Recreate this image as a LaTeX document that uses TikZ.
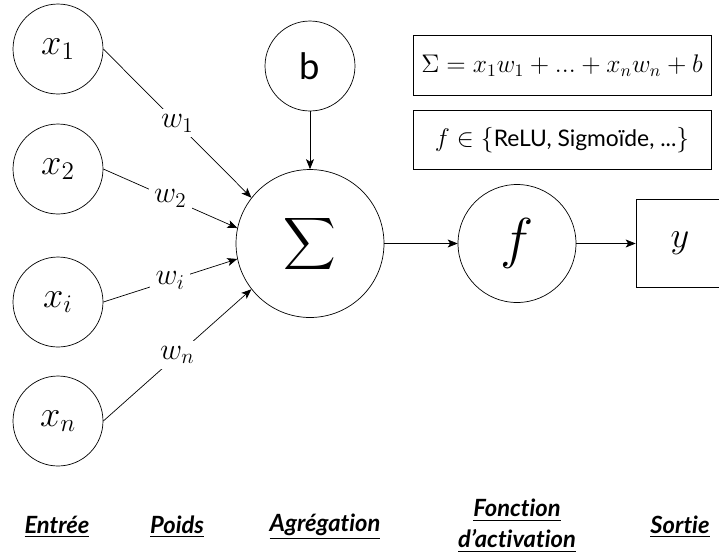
\RequirePackage{fix-cm}
\documentclass[tikz,border=0pt]{standalone}
\usepackage{amsmath}
\usepackage{fontspec}
\setmainfont{Lato}[Ligatures={TeX,NoCommon}]
\DeclareMathSizes{13}{14.5}{10}{7.5}
\usetikzlibrary{arrows.meta, positioning}

\begin{document}
\begin{tikzpicture}[x=0.02cm, y=-0.02cm,
    neur/.style={draw, circle, minimum size=1.8cm, inner sep=0pt, font=\huge},
    somme/.style={draw, circle, minimum size=2.96cm, inner sep=0pt, font=\huge},
    activ/.style={draw, circle, minimum size=2.36cm, inner sep=0pt, font=\fontsize{32}{38}\selectfont},
    sortie/.style={draw, minimum size=1.76cm, inner sep=0pt, font=\huge},
    formule/.style={draw, minimum width=5.96cm, minimum height=1.19cm, font=\fontsize{13}{16}\selectfont},
    poids/.style={fill=white, inner sep=3pt, font=\LARGE},
    arr/.style={-{Stealth[length=2mm, width=1.6mm, inset=0.5mm]}},
    etape/.style={font=\fontsize{13.5}{17}\selectfont\bfseries\itshape, align=center}
  ]
  \useasboundingbox (0,0) rectangle (719,552);

  % entrees
  \node[neur] (x1) at (58,49) {$x_1$};
  \node[neur] (x2) at (58,169) {$x_2$};
  \node[neur] (xi) at (58,302) {$x_i$};
  \node[neur] (xn) at (58,421) {$x_n$};

  % somme, biais, activation, sortie
  \node[somme] (sig) at (310,243.5) {$\displaystyle\sum$};
  \node[neur] (b) at (310,66) {b};
  \node[activ] (f) at (517,243.5) {$f$};
  \node[sortie] (y) at (680,243.5) {$y$};

  \draw[arr] (x1.east) -- node[poids] {$w_1$} (sig.142);
  \draw[arr] (x2.east) -- node[poids] {$w_2$} (sig.168);
  \draw[arr] (xi.east) -- node[poids] {$w_i$} (sig.192);
  \draw[arr] (xn.east) -- node[poids] {$w_n$} (sig.218);
  \draw[arr] (b) -- (sig);
  \draw[arr] (sig) -- (f);
  \draw[arr] (f) -- (y);

  % formules
  \node[formule] (eq1) at (562,65.5) {$\Sigma = x_1w_1 + ... + x_nw_n + b$};
  \node[formule, below=0.28cm of eq1] (eq2) {$f \in \{$ReLU, Sigmoïde, ...$\}$};

  % legendes
  \node[etape] (l1) at (57,527) {\underline{Entrée}};
  \node[etape] (l2) at (177,527) {\underline{Poids}};
  \node[etape] (l3) at (325,527) {\underline{Agrégation}};
  \node[etape] (l4) at (517,526) {\underline{Fonction}\\[1pt]\underline{d'activation}};
  \node[etape] (l5) at (680,527) {\underline{Sortie}};
\end{tikzpicture}
\end{document}
